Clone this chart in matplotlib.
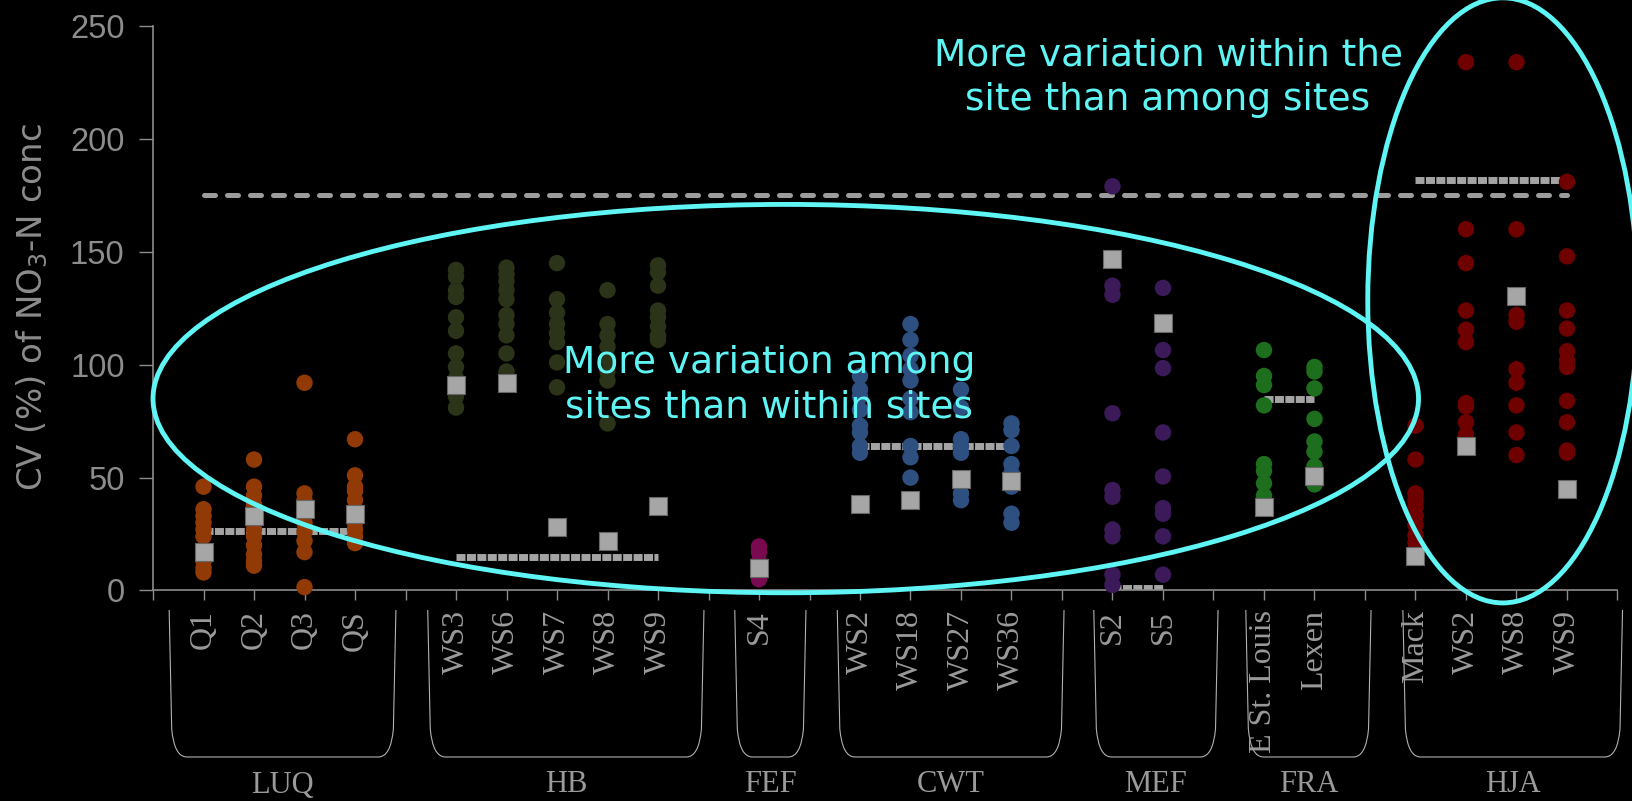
import numpy as np
import matplotlib
matplotlib.use("Agg")
import matplotlib.pyplot as plt
from matplotlib.patches import Ellipse, PathPatch
from matplotlib.path import Path
from matplotlib.transforms import blended_transform_factory

# sites and the streams inside each site
groups = ["LUQ", "HB", "FEF", "CWT", "MEF", "FRA", "HJA"]
streams = [
    ["Q1", "Q2", "Q3", "QS"],
    ["WS3", "WS6", "WS7", "WS8", "WS9"],
    ["S4"],
    ["WS2", "WS18", "WS27", "WS36"],
    ["S2", "S5"],
    ["E St. Louis", "Lexen"],
    ["Mack", "WS2", "WS8", "WS9"],
]

# CV (%) of NO3-N conc, one column of points per stream
luq_cv = [
    [46, 36, 33, 30, 27, 24, 13, 10, 8],
    [58, 46, 42, 38, 30, 27, 24, 20, 16, 13, 11],
    [92, 43, 40, 30, 26, 22, 17, 1.5],
    [67, 51, 46, 44, 40, 30, 27, 24, 21],
]
hb_cv = [
    [142, 139, 133, 130, 121, 115, 105, 99, 94, 86, 81],
    [143, 140, 137, 133, 129, 122, 118, 113, 105, 97],
    [145, 129, 123, 118, 114, 110, 101, 90],
    [133, 118, 113, 108, 103, 97, 93, 74],
    [144, 141, 135, 124, 121, 117, 113, 111],
]
fef_cv = [
    [19.5, 17, 13, 5],
]
cwt_cv = [
    [95, 89, 86, 80, 73, 70, 64, 61],
    [118, 111, 104, 98, 93, 85, 79, 64, 59, 50],
    [89, 81, 67, 64, 61, 43, 40],
    [74, 71, 64, 56, 52, 46, 34, 30],
]
mef_cv = [
    [179, 135, 131, 78.5, 44.5, 41.5, 27, 24, 7, 2.5],
    [134, 106.5, 98.5, 70, 50.5, 36.5, 34, 24, 7],
]
fra_cv = [
    [106.5, 95, 91, 82, 56, 53, 47.5, 42, 38],
    [99, 97, 89.5, 76, 66, 61.5, 55, 47],
]
hja_cv = [
    [73, 58, 43, 40, 37, 33, 29, 24.5, 21],
    [234, 160, 145, 124, 115.5, 110, 83, 81.5, 74.5, 69],
    [234, 160, 122, 119, 98, 92, 82, 70, 60],
    [181, 148, 124, 116, 106, 102, 99, 84, 74.5, 62, 61],
]
cv_by_group = [luq_cv, hb_cv, fef_cv, cwt_cv, mef_cv, fra_cv, hja_cv]

# grey squares: stream means
stream_means = [
    [17, 33, 36, 34],
    [91, 92, 28, 22, 37.5],
    [10],
    [38.5, 40, 49.5, 48.5],
    [147, 118.5],
    [37, 50.5],
    [15.5, 64, 130.5, 45],
]
site_means = [26.5, 15, 10, 64, 1, 85, 182]
grand_mean = 175

colors = ["#923a06", "#2b3318", "#7a0a50", "#2e5080", "#3c1a5a", "#1d6e1d", "#6e0000"]

GREY = "#8c8c8c"
CYAN = "#5ff5f5"

# x positions: one slot per stream, an empty slot between sites
positions = []
tick_labels = [""]
p = 1
for names in streams:
    positions.append(list(range(p, p + len(names))))
    tick_labels += names + [""]
    p += len(names) + 1
n_slots = p - 1  # 29

fig = plt.figure(figsize=(16.33, 8.01), dpi=100, facecolor="black")
ax = fig.add_axes([0.0937, 0.2628, 0.8968, 0.7047])
ax.set_facecolor("black")

ax.plot([1, 28], [grand_mean, grand_mean], color="#9c9c9c", lw=3.6,
        dashes=(2.2, 2.4), dash_capstyle="round", zorder=2)

for g, pos in enumerate(positions):
    if len(pos) > 1:
        ax.plot([pos[0], pos[-1]], [site_means[g]] * 2, color="#a4a4a4", lw=5,
                dashes=(1.3, 0.2), solid_capstyle="butt", zorder=2)
    for x, vals in zip(pos, cv_by_group[g]):
        ax.scatter(np.full(len(vals), x), vals, s=140, color=colors[g],
                   edgecolors="none", zorder=3, clip_on=False)
    ax.scatter(pos, stream_means[g], marker="s", s=150, color="#a6a6a6",
               edgecolors="#666666", linewidths=0.8, zorder=4)

ax.set_xlim(0, n_slots)
ax.set_ylim(0, 250)
ax.set_xticks(range(n_slots + 1))
ax.set_xticklabels(tick_labels, rotation=90, va="top", ha="center",
                   family="Liberation Serif", fontsize=23, color="#9a9a9a")
ax.set_yticks(range(0, 251, 50))
ax.set_yticklabels([str(v) for v in range(0, 251, 50)],
                   family="Liberation Sans", fontsize=23.5, color=GREY)
ax.tick_params(axis="x", length=7, width=1, color=GREY, pad=7)
ax.tick_params(axis="y", length=10, width=1, color=GREY, pad=10.5)
for side in ["top", "right"]:
    ax.spines[side].set_visible(False)
for side in ["left", "bottom"]:
    ax.spines[side].set_color(GREY)
    ax.spines[side].set_linewidth(1.2)

fig.text(32 / 1633, 1 - 307 / 801, "CV (%) of NO$_3$-N conc", rotation=90,
         ha="center", va="center", fontsize=24.5, color=GREY)

# brackets under the stream names, with the site name below
spans = [(0.32, 4.81), (5.44, 10.91), (11.52, 12.93), (13.55, 18.04),
         (18.63, 21.09), (21.64, 24.12), (24.75, 29.1)]
tr = blended_transform_factory(ax.transData, fig.transFigure)
top, bot = 1 - 610 / 801, 1 - 757 / 801
for name, (xl, xr) in zip(groups, spans):
    verts = [(xl, top), (xl + 0.05, bot + 0.035), (xl + 0.1, bot), (xl + 0.35, bot),
             (xr - 0.35, bot), (xr - 0.1, bot), (xr - 0.05, bot + 0.035), (xr, top)]
    codes = [Path.MOVETO, Path.LINETO, Path.CURVE3, Path.CURVE3,
             Path.LINETO, Path.CURVE3, Path.CURVE3, Path.LINETO]
    ax.add_patch(PathPatch(Path(verts, codes), fill=False, ec="#b0b0b0", lw=0.8,
                           transform=tr, clip_on=False))
    ax.text((xl + xr) / 2, 1 - 785 / 801, name, transform=tr, ha="center", va="center",
            family="Liberation Serif", fontsize=22, color="#9a9a9a")

# annotations
ax.add_patch(Ellipse((12.53, 85), 25.06, 172, fill=False, ec=CYAN, lw=3.5,
                     clip_on=False, zorder=6))
ax.add_patch(Ellipse((26.73, 128.5), 5.35, 268, fill=False, ec=CYAN, lw=3.5,
                     clip_on=False, zorder=6))
ax.text(12.2, 91, "More variation among\nsites than within sites", ha="center",
        va="center", fontsize=27, color=CYAN, linespacing=1.32, zorder=7)
ax.text(20.1, 227, "More variation within the\nsite than among sites", ha="center",
        va="center", fontsize=27, color=CYAN, linespacing=1.32, zorder=7)

fig.savefig("out.png", dpi=100, facecolor="black")
